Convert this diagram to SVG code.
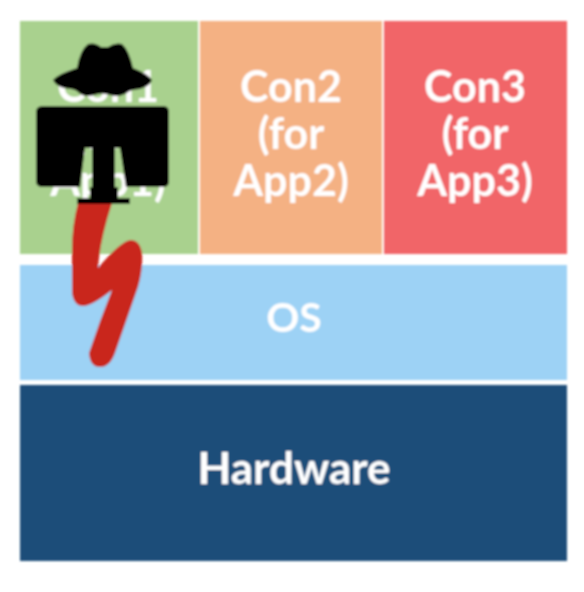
<svg xmlns="http://www.w3.org/2000/svg" width="584" height="592" viewBox="0 0 584 592">
<style>text{font-family:"Lato","Liberation Sans",sans-serif;font-weight:700;fill:#fff;text-anchor:middle}.c{font-size:43px}</style>
<defs><filter id="soft" x="-2%" y="-2%" width="104%" height="104%"><feGaussianBlur stdDeviation="1"/></filter></defs>
<rect width="584" height="592" fill="#fff"/>
<g filter="url(#soft)">
<g id="con1"><rect x="20" y="21" width="178" height="233" fill="#a9d18e"/><text class="c" x="108" y="102">Con1</text><text class="c" x="108" y="149">(for</text><text class="c" x="108" y="196">App1)</text></g>
<g id="con2"><rect x="200" y="21" width="182" height="233" fill="#f4b183"/><text class="c" x="291" y="102">Con2</text><text class="c" x="291" y="149">(for</text><text class="c" x="291" y="196">App2)</text></g>
<g id="con3"><rect x="384" y="21" width="183" height="233" fill="#f16567"/><text class="c" x="475" y="102">Con3</text><text class="c" x="475" y="149">(for</text><text class="c" x="475" y="196">App3)</text></g>
<g id="os"><rect x="20" y="265" width="547" height="115" fill="#9dd2f5"/><text x="294" y="332" font-size="41">OS</text></g>
<g id="hardware"><rect x="20" y="385" width="547" height="176" fill="#1f4e79"/><text x="294" y="484" font-size="44">Hardware</text></g>
<g id="connectors"><path d="M78 203 Q72 225 72 250 L72 293 Q74 306 83 306 Q92 306 112 290 Q100 320 89 353 Q90 367 100 367 Q110 367 115 353 L138 287 Q143 270 142 253 Q140 240 130 240 Q120 242 98 268 Q100 240 112 203Z" fill="#c9251d"/></g>
<g id="attacker"><path d="M53 80 Q58 74 77 68 Q80 50 88 44 Q95 42 101 47 L108 47 Q115 42 122 44 Q129 50 133 68 Q148 74 152 80 Q150 86 140 89 Q130 90 128 92 Q120 98 110 95 Q102 92 94 95 Q84 98 78 92 Q76 89 64 88 Q56 86 53 80Z" fill="#000"/><path fill-rule="evenodd" d="M43 106H163Q169 106 169 112V181Q169 187 163 187H118V198H130V204H77V198H90V187H43Q36 187 36 181V112Q36 106 43 106ZM85 148 L80 187H92V148ZM115 148V187H126L120 148Z" fill="#000"/></g>
</g>
</svg>
